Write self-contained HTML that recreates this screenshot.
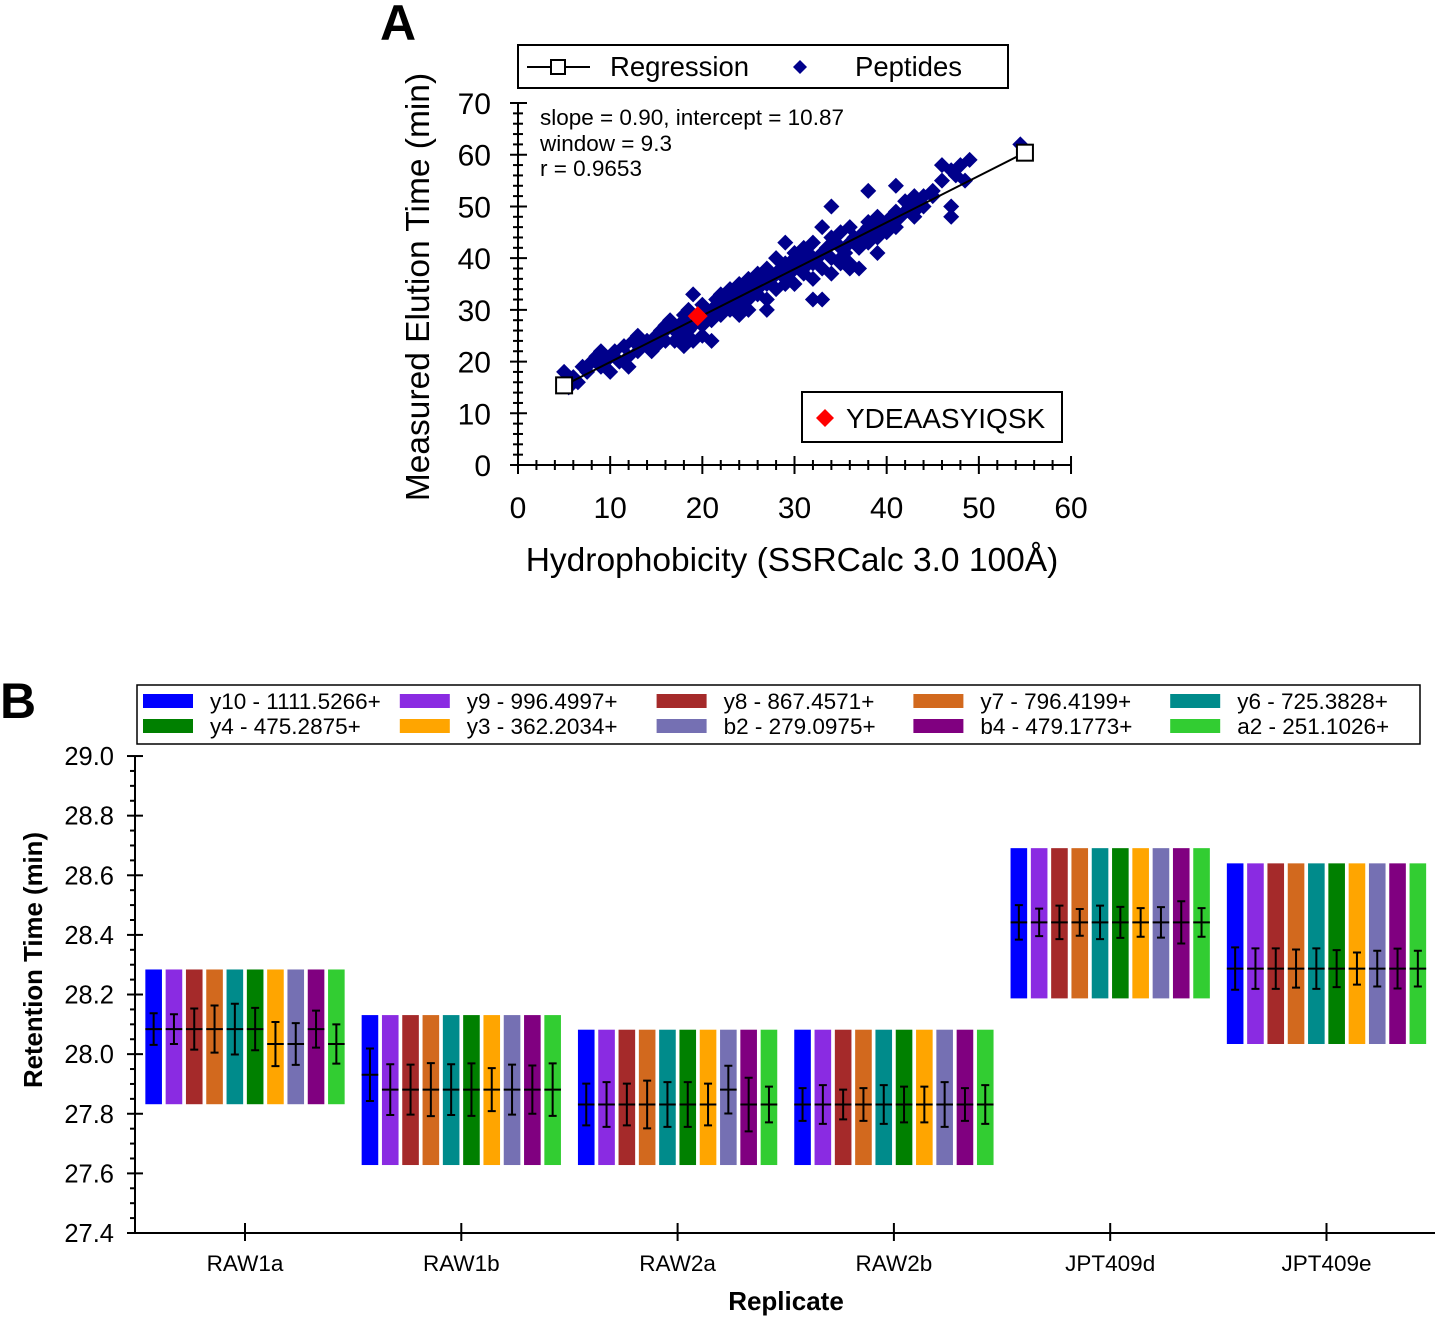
<!DOCTYPE html>
<html><head><meta charset="utf-8"><style>
body{margin:0;background:#fff}
svg text{font-family:"Liberation Sans",Arial,sans-serif}
</style></head><body>
<svg id="s" width="1435" height="1316" viewBox="0 0 1435 1316" xmlns="http://www.w3.org/2000/svg">
<text x="380" y="40" font-size="50" font-weight="bold">A</text>
<text x="0" y="718" font-size="50" font-weight="bold">B</text>
<g id="ga"></g>
<g id="gb"></g>
</svg>
<script>
const NS="http://www.w3.org/2000/svg";
function mk(p,t,a){const e=document.createElementNS(NS,t);for(const k in a)e.setAttribute(k,a[k]);p.appendChild(e);return e;}
function tx(p,x,y,s,a){const e=mk(p,'text',Object.assign({x:x,y:y},a));e.textContent=s;return e;}

// ---------- Panel A data ----------
const pepX=[5,6,5.5,6.5,7,7.5,8,8.5,9,9,9.5,10,10,10.5,11,11.5,12,12,12.5,13,13,13.5,14,14.5,15,15,15.5,16,16,16.5,17,17,17.5,18,18,18,18.5,18.5,19,19,19.5,20,20,20,20.5,21,21,21.5,22,22,22,22.5,23,23,23,23.5,24,24,24,24.5,25,25,25,25,25.5,26,26,26,26.5,27,27,27,27.5,28,28,28,28.5,29,29,29,29.5,30,30,30,30,30.5,31,31,31,31.5,32,32,32,32.5,33,33,33,33.5,34,34,34,34.5,35,35,35,35.5,36,36,36,36.5,37,37,37.5,38,38,38,38.5,39,39,39,39.5,40,40,40.5,41,41,41.5,42,42,42.5,43,43,43.5,44,44,45,46,46,47,47,47,47.5,48,49,48.5,21,20,19,18,27,32,33,37,36,38,34,45,41,54.5,14,16,24,26,29,31,35,39,43];
const pepY=[18,17,15,16,19,18,20,21,19,22,20,21,18,22,20,23,21,19,24,22,25,23,24,22,25,23,26,27,24,28,26,24,27,28,29,25,30,26,33,27,28,29,27,31,30,30,28,32,31,29,33,30,32,34,30,33,31,35,29,33,34,36,32,30,35,33,37,34,36,35,38,32,36,37,34,40,38,36,43,39,37,38,41,35,40,39,40,37,42,41,39,36,43,40,41,46,38,42,40,44,37,43,42,39,45,41,43,46,38,44,44,42,45,46,47,43,45,46,48,41,47,47,45,48,49,46,48,49,51,50,49,52,51,50,52,53,58,55,57,48,50,56,58,59,55,24,25,24,23,30,32,32,38,39,53,50,52,54,62,24,26,34,36,35,38,40,44,48];
const selX=[19.5], selY=[28.8];
const regX=[5,55], regY=[15.4,60.4];
const aXTicks=[0,10,20,30,40,50,60], aYTicks=[0,10,20,30,40,50,60,70];

const ga=document.getElementById('ga');
const ax=v=>518+v*9.217, ay=v=>465-v*5.171;
let e=mk(ga,'line',{x1:518,y1:103,x2:518,y2:465,stroke:'#000','stroke-width':2});

e=mk(ga,'line',{x1:518,y1:465,x2:1071,y2:465,stroke:'#000','stroke-width':2});

for(let v=0;v<=70;v+=2){const maj=v%10===0;mk(ga,'line',{x1:maj?510:513,x2:maj?527:523,y1:ay(v),y2:ay(v),stroke:'#000','stroke-width':2});}
for(let v=0;v<=60;v+=2){const maj=v%10===0;mk(ga,'line',{y1:maj?456:460,y2:maj?474:470,x1:ax(v),x2:ax(v),stroke:'#000','stroke-width':2});}
aYTicks.forEach(v=>{e=tx(ga,491,ay(v)+11,String(v),{'font-size':30,'text-anchor':'end'});
});
aXTicks.forEach(v=>{e=tx(ga,ax(v),518,String(v),{'font-size':30,'text-anchor':'middle'});
});
e=tx(ga,792,571,'Hydrophobicity (SSRCalc 3.0 100Å)',{'font-size':33.5,'text-anchor':'middle'});

e=tx(ga,0,0,'Measured Elution Time (min)',{'font-size':33.5,'text-anchor':'middle',transform:'translate(429,287) rotate(-90)'});

[['slope = 0.90, intercept = 10.87',125],['window = 9.3',151],['r = 0.9653',176]].forEach(s=>{
e=tx(ga,540,s[1],s[0],{'font-size':22.5});});
pepX.forEach((x,i)=>{const cx=ax(x),cy=ay(pepY[i]);
e=mk(ga,'polygon',{points:`${cx},${cy-8} ${cx+8},${cy} ${cx},${cy+8} ${cx-8},${cy}`,fill:'#00008b'});
});
e=mk(ga,'line',{x1:ax(regX[0]),y1:ay(regY[0]),x2:ax(regX[1]),y2:ay(regY[1]),stroke:'#000','stroke-width':2});

regX.forEach((x,i)=>{e=mk(ga,'rect',{x:ax(x)-8,y:ay(regY[i])-8,width:16,height:16,fill:'#fff',stroke:'#000','stroke-width':2});
});
selX.forEach((x,i)=>{const cx=ax(x),cy=ay(selY[i]);
e=mk(ga,'polygon',{points:`${cx},${cy-10} ${cx+10},${cy} ${cx},${cy+10} ${cx-10},${cy}`,fill:'#ff0000'});
});
const lg=mk(ga,'g',{});
mk(lg,'rect',{x:518,y:45,width:490,height:43,fill:'#fff',stroke:'#000','stroke-width':2});
mk(lg,'line',{x1:527,y1:67,x2:590,y2:67,stroke:'#000','stroke-width':2});
mk(lg,'rect',{x:551,y:60,width:14,height:14,fill:'#fff',stroke:'#000','stroke-width':2});
tx(lg,610,76,'Regression',{'font-size':27.5});
mk(lg,'polygon',{points:'800,60 807,67 800,74 793,67',fill:'#00008b'});
tx(lg,855,76,'Peptides',{'font-size':27.5});
const lg2=mk(ga,'g',{});
mk(lg2,'rect',{x:802,y:392,width:260,height:50,fill:'#fff',stroke:'#000','stroke-width':2});
mk(lg2,'polygon',{points:'825,409 834,418 825,427 816,418',fill:'#ff0000'});
tx(lg2,846,428,'YDEAASYIQSK',{'font-size':28});

// ---------- Panel B data ----------
const replicates=['RAW1a','RAW1b','RAW2a','RAW2b','JPT409d','JPT409e'];
const ions=['y10 - 1111.5266+','y9 - 996.4997+','y8 - 867.4571+','y7 - 796.4199+','y6 - 725.3828+','y4 - 475.2875+','y3 - 362.2034+','b2 - 279.0975+','b4 - 479.1773+','a2 - 251.1026+'];
const ionColors=['#0000ff','#8a2be2','#a52a2a','#d2691e','#008b8b','#008000','#ffa500','#7570b3','#800080','#32cd32'];
const barTop=[28.284,28.131,28.082,28.082,28.691,28.640];
const barBottom=[27.832,27.628,27.628,27.628,28.187,28.034];
const means=[
[28.084,28.084,28.084,28.084,28.084,28.084,28.034,28.034,28.084,28.034],
[27.931,27.881,27.881,27.881,27.881,27.881,27.881,27.881,27.881,27.881],
[27.831,27.831,27.831,27.831,27.831,27.831,27.831,27.881,27.831,27.831],
[27.831,27.831,27.831,27.831,27.831,27.831,27.831,27.831,27.831,27.831],
[28.442,28.442,28.442,28.442,28.442,28.442,28.442,28.442,28.442,28.442],
[28.287,28.287,28.287,28.287,28.287,28.287,28.287,28.287,28.287,28.287]];
const errs=[
[0.053,0.050,0.069,0.079,0.085,0.071,0.074,0.070,0.062,0.066],
[0.088,0.085,0.084,0.089,0.085,0.088,0.072,0.084,0.081,0.088],
[0.070,0.075,0.070,0.080,0.075,0.075,0.070,0.080,0.090,0.060],
[0.055,0.065,0.050,0.055,0.065,0.060,0.060,0.075,0.055,0.065],
[0.058,0.046,0.056,0.045,0.056,0.052,0.048,0.051,0.071,0.048],
[0.071,0.068,0.068,0.064,0.068,0.062,0.054,0.060,0.067,0.060]];
const bYTicks=[27.4,27.6,27.8,28.0,28.2,28.4,28.6,28.8,29.0];

const gb=document.getElementById('gb');
const by=v=>1233-(v-27.4)*298.1;
const bx=i=>245+i*216.3;
e=mk(gb,'line',{x1:135,y1:756,x2:135,y2:1233,stroke:'#000','stroke-width':2});

e=mk(gb,'line',{x1:135,y1:1233,x2:1435,y2:1233,stroke:'#000','stroke-width':2});

for(let k=0;k<=32;k++){const v=27.4+k*0.05;const maj=k%4===0;
mk(gb,'line',{x1:maj?127:130,x2:maj?143:135,y1:by(v),y2:by(v),stroke:'#000','stroke-width':2});}
bYTicks.forEach(v=>{e=tx(gb,114,by(v)+9,v.toFixed(1),{'font-size':25.5,'text-anchor':'end'});
});
replicates.forEach((r,i)=>{mk(gb,'line',{x1:bx(i),x2:bx(i),y1:1223,y2:1241,stroke:'#000','stroke-width':2});
e=tx(gb,bx(i),1271,r,{'font-size':22.5,'text-anchor':'middle'});
});
e=tx(gb,786,1310,'Replicate',{'font-size':26,'font-weight':'bold','text-anchor':'middle'});

e=tx(gb,0,0,'Retention Time (min)',{'font-size':25.8,'font-weight':'bold','text-anchor':'middle',transform:'translate(42,960) rotate(-90)'});

replicates.forEach((r,g)=>{ions.forEach((ion,j)=>{
const cx=bx(g)+(j-4.5)*20.3;
e=mk(gb,'rect',{x:cx-8.3,y:by(barTop[g]),width:16.6,height:by(barBottom[g])-by(barTop[g]),fill:ionColors[j]});

const m=means[g][j],er=errs[g][j];
e=mk(gb,'path',{d:`M${cx-8.3},${by(m)}H${cx+8.3}M${cx},${by(m+er)}V${by(m-er)}M${cx-4},${by(m+er)}H${cx+4}M${cx-4},${by(m-er)}H${cx+4}`,stroke:'#000','stroke-width':2,fill:'none'});

});});
const bl=mk(gb,'g',{});
mk(bl,'rect',{x:137,y:685,width:1283,height:59,fill:'#fff',stroke:'#000','stroke-width':1.5});
ions.forEach((ion,j)=>{const col=j%5,row=Math.floor(j/5);const x=143+col*256.8,y=701+row*25;
e=mk(bl,'rect',{x:x,y:y-7,width:50,height:14,fill:ionColors[j]});

e=tx(bl,x+67,y+8,ion,{'font-size':22.5});
});
</script>
</body></html>
